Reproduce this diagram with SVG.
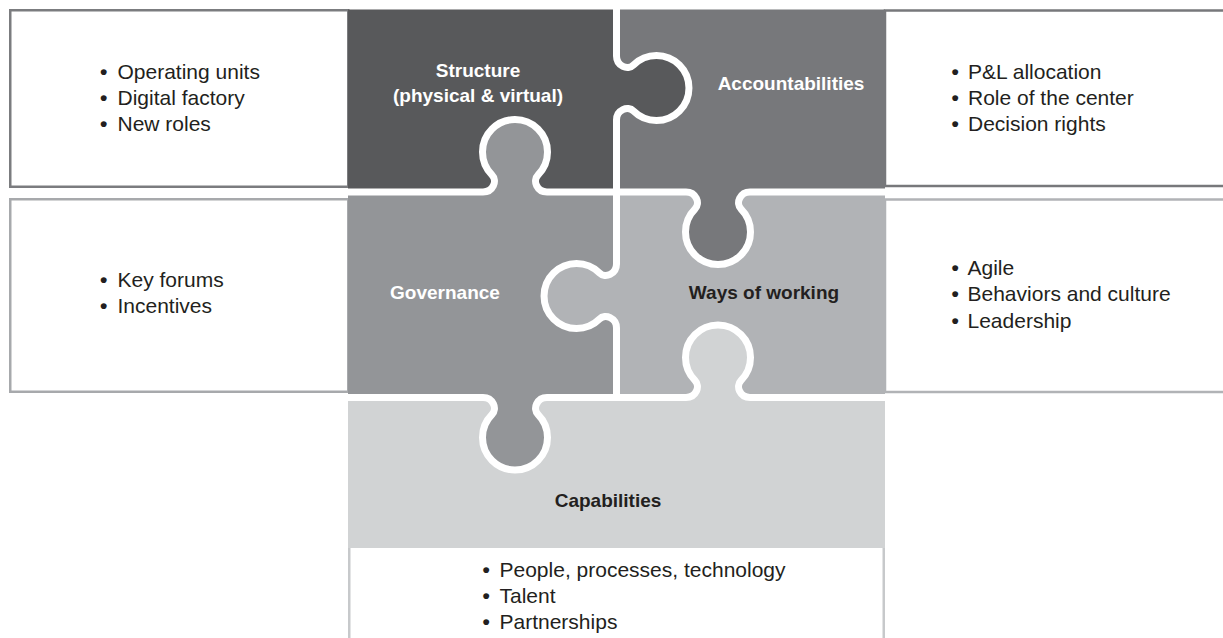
<svg xmlns="http://www.w3.org/2000/svg" width="1223" height="638" viewBox="0 0 1223 638">
<style>
.box{fill:#ffffff;stroke-width:2.5}
.seam{fill:none;stroke:#ffffff;stroke-width:7;stroke-linejoin:round}
.item{font-family:"Liberation Sans",Arial,sans-serif;font-size:21px;fill:#231f20}
.b{font-weight:700}
.lbl{font-family:"Liberation Sans",Arial,sans-serif;font-size:19px;font-weight:700;text-anchor:middle}
.lw{fill:#ffffff}
.ld{fill:#231f20}
</style>
<rect width="1223" height="638" fill="#ffffff"/>
<g id="box-structure">
<rect class="box" x="10.25" y="10.25" width="338" height="176.5" stroke="#7b7c7f"/>
<text class="item" y="79"><tspan class="b" x="100">•</tspan><tspan x="117.5">Operating units</tspan></text>
<text class="item" y="105"><tspan class="b" x="100">•</tspan><tspan x="117.5">Digital factory</tspan></text>
<text class="item" y="131"><tspan class="b" x="100">•</tspan><tspan x="117.5">New roles</tspan></text>
</g>
<g id="box-accountabilities">
<rect class="box" x="885" y="10.5" width="400" height="175.5" stroke="#77787b"/>
<text class="item" y="78.5"><tspan class="b" x="951.5">•</tspan><tspan x="968">P&amp;L allocation</tspan></text>
<text class="item" y="104.5"><tspan class="b" x="951.5">•</tspan><tspan x="968">Role of the center</tspan></text>
<text class="item" y="130.5"><tspan class="b" x="951.5">•</tspan><tspan x="968">Decision rights</tspan></text>
</g>
<g id="box-governance">
<rect class="box" x="10.25" y="199.25" width="338" height="192.5" stroke="#a7a9ac"/>
<text class="item" y="287"><tspan class="b" x="100">•</tspan><tspan x="117.5">Key forums</tspan></text>
<text class="item" y="313"><tspan class="b" x="100">•</tspan><tspan x="117.5">Incentives</tspan></text>
</g>
<g id="box-ways">
<rect class="box" x="885" y="199.5" width="400" height="192.5" stroke="#b1b3b6"/>
<text class="item" y="274.5"><tspan class="b" x="951.5">•</tspan><tspan x="967.5">Agile</tspan></text>
<text class="item" y="301"><tspan class="b" x="951.5">•</tspan><tspan x="967.5">Behaviors and culture</tspan></text>
<text class="item" y="327.5"><tspan class="b" x="951.5">•</tspan><tspan x="967.5">Leadership</tspan></text>
</g>
<g id="box-capabilities">
<rect class="box" x="349.25" y="540" width="534.5" height="120" stroke="#c7c9cb"/>
<text class="item" y="577"><tspan class="b" x="482.5">•</tspan><tspan x="499.5">People, processes, technology</tspan></text>
<text class="item" y="603"><tspan class="b" x="482.5">•</tspan><tspan x="499.5">Talent</tspan></text>
<text class="item" y="629"><tspan class="b" x="482.5">•</tspan><tspan x="499.5">Partnerships</tspan></text>
</g>
<g id="piece-structure">
<path fill="#58595b" d="M348,9.5 L616.5,9.5 L616.5,56 C616.5,66 627.8,70.7 633.5,65 A32.5,32.5 0 1 1 633.5,111 C627.8,105.3 616.5,110 616.5,120 L616.5,192 L547,192 C537,192 532.3,180.7 538,175 A32.5,32.5 0 1 0 492,175 C497.7,180.7 493,192 483,192 L348,192 Z"/>
<text class="lbl lw" x="478" y="77">Structure</text>
<text class="lbl lw" x="478" y="101.5">(physical &amp; virtual)</text>
</g>
<g id="piece-accountabilities">
<path fill="#77787b" d="M616.5,9.5 L885,9.5 L885,192 L750,192 C740,192 735.3,203.3 741,209 A32.5,32.5 0 1 1 695,209 C700.7,203.3 696,192 686,192 L616.5,192 L616.5,120 C616.5,110 627.8,105.3 633.5,111 A32.5,32.5 0 1 0 633.5,65 C627.8,70.7 616.5,66 616.5,56 Z"/>
<text class="lbl lw" x="791" y="90">Accountabilities</text>
</g>
<g id="piece-governance">
<path fill="#939598" d="M348,192 L483,192 C493,192 497.7,180.7 492,175 A32.5,32.5 0 1 1 538,175 C532.3,180.7 537,192 547,192 L616.5,192 L616.5,264 C616.5,274 605.2,278.7 599.5,273 A32.5,32.5 0 1 0 599.5,319 C605.2,313.3 616.5,318 616.5,328 L616.5,397.5 L547,397.5 C537,397.5 532.3,408.8 538,414.5 A32.5,32.5 0 1 1 492,414.5 C497.7,408.8 493,397.5 483,397.5 L348,397.5 Z"/>
<text class="lbl lw" x="445" y="299">Governance</text>
</g>
<g id="piece-ways">
<path fill="#b1b3b6" d="M616.5,192 L686,192 C696,192 700.7,203.3 695,209 A32.5,32.5 0 1 0 741,209 C735.3,203.3 740,192 750,192 L885,192 L885,397.5 L750,397.5 C740,397.5 735.3,386.2 741,380.5 A32.5,32.5 0 1 0 695,380.5 C700.7,386.2 696,397.5 686,397.5 L616.5,397.5 L616.5,328 C616.5,318 605.2,313.3 599.5,319 A32.5,32.5 0 1 1 599.5,273 C605.2,278.7 616.5,274 616.5,264 Z"/>
<text class="lbl ld" x="764" y="299">Ways of working</text>
</g>
<g id="piece-capabilities">
<path fill="#d1d3d4" d="M348,397.5 L483,397.5 C493,397.5 497.7,408.8 492,414.5 A32.5,32.5 0 1 0 538,414.5 C532.3,408.8 537,397.5 547,397.5 L686,397.5 C696,397.5 700.7,386.2 695,380.5 A32.5,32.5 0 1 1 741,380.5 C735.3,386.2 740,397.5 750,397.5 L885,397.5 L885,548 L348,548 Z"/>
<text class="lbl ld" x="608" y="507">Capabilities</text>
</g>
<g id="connectors">
<path class="seam" d="M348,192 L483,192 C493,192 497.7,180.7 492,175 A32.5,32.5 0 1 1 538,175 C532.3,180.7 537,192 547,192 L686,192 C696,192 700.7,203.3 695,209 A32.5,32.5 0 1 0 741,209 C735.3,203.3 740,192 750,192 L885,192"/>
<path class="seam" d="M348,397.5 L483,397.5 C493,397.5 497.7,408.8 492,414.5 A32.5,32.5 0 1 0 538,414.5 C532.3,408.8 537,397.5 547,397.5 L686,397.5 C696,397.5 700.7,386.2 695,380.5 A32.5,32.5 0 1 1 741,380.5 C735.3,386.2 740,397.5 750,397.5 L885,397.5"/>
<path class="seam" d="M616.5,0 L616.5,56 C616.5,66 627.8,70.7 633.5,65 A32.5,32.5 0 1 1 633.5,111 C627.8,105.3 616.5,110 616.5,120 L616.5,264 C616.5,274 605.2,278.7 599.5,273 A32.5,32.5 0 1 0 599.5,319 C605.2,313.3 616.5,318 616.5,328 L616.5,397.5"/>
</g>
</svg>
